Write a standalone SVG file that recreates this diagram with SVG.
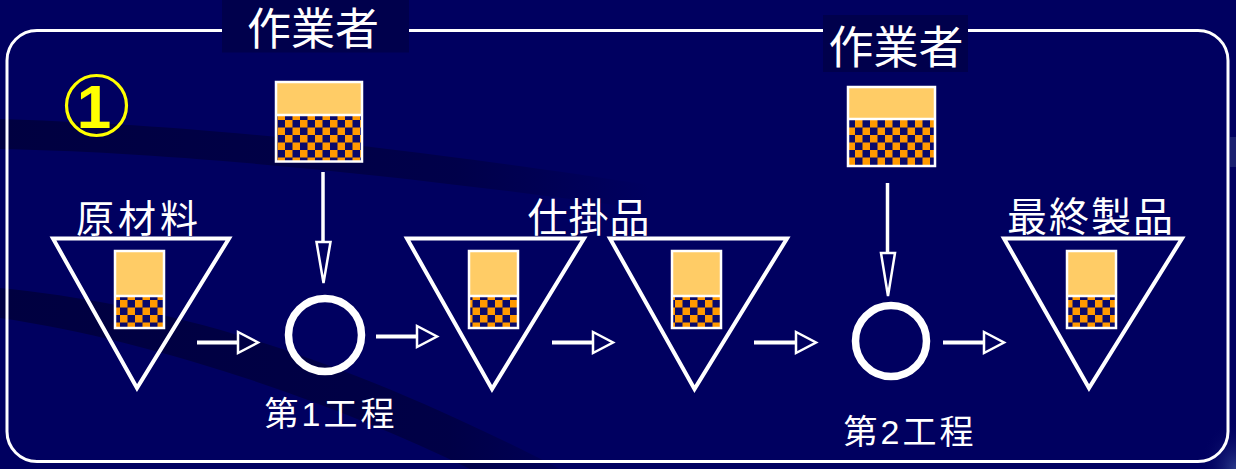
<svg xmlns="http://www.w3.org/2000/svg" width="1236" height="469" viewBox="0 0 1236 469">
<style>
.tri{fill:none;stroke:#fff;stroke-width:4;stroke-linejoin:miter}
.proc{fill:none;stroke:#fff;stroke-width:7.5}
.frame{fill:none;stroke:#fff;stroke-width:3}
.boxo{fill:none;stroke:#fff;stroke-width:2.5}
.top{fill:#FFCC66}
.chk{fill:url(#checker)}
.div{stroke:#fff;stroke-width:2.5}
.lbl{fill:#fff;font-family:"Liberation Sans","Noto Sans CJK JP","Noto Sans CJK SC",sans-serif}
.hl{stroke:#fff;stroke-width:4;fill:none}
.vl{stroke:#fff;stroke-width:3.5;fill:none}
.head{fill:none;stroke:#fff;stroke-width:2.5;stroke-linejoin:miter}
.lblbg{fill:#00004C}
</style>
<defs>
<pattern id="checker" width="15" height="15" patternUnits="userSpaceOnUse">
<rect width="15" height="15" fill="#0A0A6A"/>
<rect x="0" y="0" width="7.5" height="7.5" fill="#FF9900"/>
<rect x="7.5" y="7.5" width="7.5" height="7.5" fill="#FF9900"/>
</pattern>
<linearGradient id="fadeR" x1="0" y1="0" x2="1" y2="0">
<stop offset="0" stop-color="#000040" stop-opacity="1"/>
<stop offset="0.7" stop-color="#000040" stop-opacity="0.7"/>
<stop offset="1" stop-color="#000040" stop-opacity="0"/>
</linearGradient>
<linearGradient id="fadeR2" x1="0" y1="0" x2="1" y2="0">
<stop offset="0" stop-color="#000040" stop-opacity="1"/>
<stop offset="0.8" stop-color="#000040" stop-opacity="0.8"/>
<stop offset="1" stop-color="#000040" stop-opacity="0.3"/>
</linearGradient>
<radialGradient id="corner" cx="1" cy="1" r="1">
<stop offset="0" stop-color="#2A3A8A"/>
<stop offset="1" stop-color="#000060" stop-opacity="0"/>
</radialGradient>
</defs>

<!-- background -->
<rect width="1236" height="469" fill="#000060"/>
<path d="M0,119 C150,124 320,135 650,185 L650,210 C380,172 160,152 0,149 Z" fill="url(#fadeR)"/>
<path d="M0,288 C150,303 320,345 560,469 L470,469 C330,400 150,340 0,318 Z" fill="url(#fadeR2)"/>
<rect x="1200" y="420" width="36" height="49" fill="url(#corner)"/>
<rect x="1230" y="137" width="6" height="30" fill="#1A2070"/>

<!-- frame -->
<rect class="frame" x="7" y="30.5" width="1221" height="431" rx="30" ry="30"/>

<!-- step number -->
<g id="step-number">
<circle cx="96.5" cy="105.5" r="30" fill="none" stroke="#FFFF00" stroke-width="3.2"/>
<text x="94" y="127.5" font-family="Liberation Sans, sans-serif" font-weight="bold" font-size="62" fill="#FFFF00" text-anchor="middle">1</text>
</g>

<!-- worker 1 -->
<g id="worker1">
<rect class="lblbg" x="222" y="0" width="187" height="52.5"/>
<text class="lbl" x="313" y="45" font-size="44" text-anchor="middle">作業者</text>
<rect class="top" x="276" y="82" width="86" height="32.5"/>
<rect class="chk" x="276" y="114.5" width="86" height="47"/>
<line class="div" x1="276" y1="115" x2="362" y2="115"/>
<rect class="boxo" x="276" y="82" width="86" height="79.5"/>
</g>

<!-- worker 2 -->
<g id="worker2">
<rect class="lblbg" x="823" y="15" width="145" height="57"/>
<text class="lbl" x="896" y="63.5" font-size="45" text-anchor="middle">作業者</text>
<rect class="top" x="848" y="87" width="87" height="31.5"/>
<rect class="chk" x="848" y="118.5" width="87" height="47"/>
<line class="div" x1="848" y1="119" x2="935" y2="119"/>
<rect class="boxo" x="848" y="87" width="87" height="79"/>
</g>

<!-- raw material -->
<g id="raw-material">
<text class="lbl" x="139" y="232" font-size="38" letter-spacing="4" text-anchor="middle">原材料</text>
<polygon class="tri" points="53,238.5 229,238.5 137,388"/>
<rect class="top" x="115" y="251" width="49" height="44"/>
<rect class="chk" x="115" y="295" width="49" height="33"/>
<line class="div" x1="115" y1="296" x2="164" y2="296"/>
<rect class="boxo" x="115" y="251" width="49" height="77"/>
</g>

<!-- process 1 -->
<g id="process1">
<circle class="proc" cx="325" cy="335" r="36.5"/>
<text class="lbl" x="331" y="426" font-size="34" letter-spacing="3" text-anchor="middle">第1工程</text>
</g>

<!-- WIP label -->
<text id="wip-label" class="lbl" x="589" y="232" font-size="40" letter-spacing="1" text-anchor="middle">仕掛品</text>

<!-- WIP 1 -->
<g id="wip1">
<polygon class="tri" points="407,238.5 584,238.5 492,389"/>
<rect class="top" x="469" y="251" width="49" height="44"/>
<rect class="chk" x="469" y="295" width="49" height="33"/>
<line class="div" x1="469" y1="296" x2="518" y2="296"/>
<rect class="boxo" x="469" y="251" width="49" height="77"/>
</g>

<!-- WIP 2 -->
<g id="wip2">
<polygon class="tri" points="610,238.5 787,238.5 694.5,389"/>
<rect class="top" x="672" y="251" width="49" height="44"/>
<rect class="chk" x="672" y="295" width="49" height="33"/>
<line class="div" x1="672" y1="296" x2="721" y2="296"/>
<rect class="boxo" x="672" y="251" width="49" height="77"/>
</g>

<!-- process 2 -->
<g id="process2">
<circle class="proc" cx="891" cy="341" r="35.5"/>
<text class="lbl" x="910" y="444" font-size="34" letter-spacing="3" text-anchor="middle">第2工程</text>
</g>

<!-- final product -->
<g id="final-product">
<text class="lbl" x="1091" y="231" font-size="40" letter-spacing="2" text-anchor="middle">最終製品</text>
<polygon class="tri" points="1004,238.5 1182,238.5 1089,388"/>
<rect class="top" x="1067" y="251" width="49" height="44"/>
<rect class="chk" x="1067" y="295" width="49" height="33"/>
<line class="div" x1="1067" y1="296" x2="1116" y2="296"/>
<rect class="boxo" x="1067" y="251" width="49" height="77"/>
</g>

<!-- connectors -->
<g id="connectors">
<line class="vl" x1="323" y1="172" x2="323" y2="242"/>
<polygon class="head" points="316.5,242 330.5,242 323.5,283"/>
<line class="vl" x1="887.5" y1="183" x2="887.5" y2="253"/>
<polygon class="head" points="881,253 895,253 888,296"/>

<line class="hl" x1="197" y1="342.5" x2="238" y2="342.5"/>
<polygon class="head" points="238,332 238,353 258,342.5"/>
<line class="hl" x1="376" y1="336.5" x2="417" y2="336.5"/>
<polygon class="head" points="417,326 417,347 437,336.5"/>
<line class="hl" x1="552" y1="342.5" x2="593" y2="342.5"/>
<polygon class="head" points="593,332 593,353 613,342.5"/>
<line class="hl" x1="754" y1="342.5" x2="796" y2="342.5"/>
<polygon class="head" points="796,332 796,353 816,342.5"/>
<line class="hl" x1="943" y1="342.5" x2="984" y2="342.5"/>
<polygon class="head" points="984,332 984,353 1004,342.5"/>
</g>
</svg>
